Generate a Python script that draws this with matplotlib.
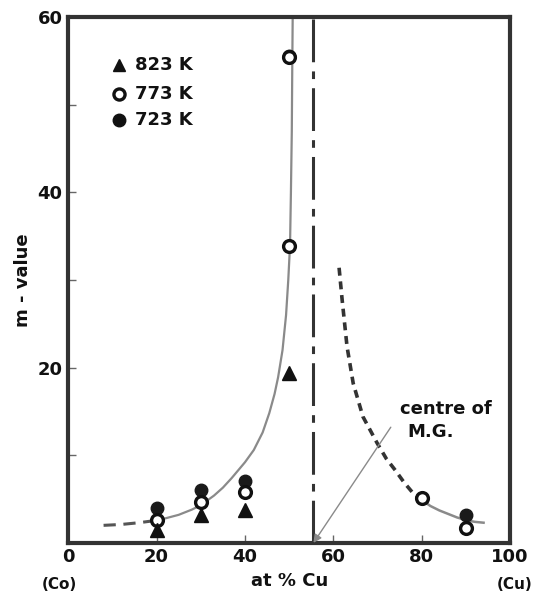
import matplotlib
matplotlib.use("Agg")
import matplotlib.pyplot as plt
import matplotlib.ticker as mtick

# measured points, at % Cu vs m-value
x_823 = [20, 30, 40, 50]
m_823 = [1.5, 3.2, 3.8, 19.4]
x_773 = [20, 30, 40, 50, 50, 80, 90]
m_773 = [2.6, 4.7, 5.8, 33.9, 55.4, 5.1, 1.7]
x_723 = [20, 30, 40, 50, 90]
m_723 = [4.0, 6.0, 7.1, 55.6, 3.2]

# hand-drawn guide curves
left_dash_x  = [8, 12, 16, 19]
left_dash_m  = [2.0, 2.1, 2.3, 2.5]
left_solid_x = [19, 22, 25, 28, 30, 33, 35, 37, 40, 42, 44, 45.5, 46.7, 47.5,
                48.5, 49.3, 49.8, 50.2, 50.4, 50.6, 50.7, 50.8]
left_solid_m = [2.5, 2.8, 3.2, 3.8, 4.3, 5.4, 6.3, 7.4, 9.2, 10.6, 12.6, 14.8, 17.0, 18.9,
                22.0, 26.0, 30.0, 34.0, 40.0, 47.0, 54.0, 60.0]
right_dash_x  = [61.3, 62.0, 63.1, 64.5, 66.7, 69.9, 72, 74, 76, 78, 80]
right_dash_m  = [31.4, 27.7, 22.4, 18.2, 14.4, 11.4, 9.6, 8.3, 6.9, 5.7, 4.9]
right_solid_x = [80, 82, 84, 86, 88, 90, 92, 94]
right_solid_m = [4.9, 4.2, 3.7, 3.3, 2.9, 2.6, 2.4, 2.3]
centre_x = 55.5

xticks = [0, 20, 40, 60, 80, 100]
yticks = [20, 40, 60]

ink  = "#111111"
grey = "#8a8a8a"
bold = dict(fontweight="bold", color=ink, family="DejaVu Sans")

fig = plt.figure(figsize=(5.33, 5.92), dpi=100)
ax = fig.add_axes([0.128, 0.083, 0.829, 0.888])

ax.plot(left_dash_x, left_dash_m, color="#555555", lw=2.2, ls=(0, (4, 2.5)))
ax.plot(left_solid_x, left_solid_m, color=grey, lw=1.6)
ax.plot(right_dash_x, right_dash_m, color="#333333", lw=2.6, ls=(0, (2.2, 1.6)))
ax.plot(right_solid_x, right_solid_m, color=grey, lw=1.8)
ax.plot([centre_x, centre_x], [0, 60], color="#333333", lw=2.2,
        ls=(0, (14, 3, 2.5, 3)))

ax.annotate("", xy=(centre_x, 0), xytext=(73, 13.2),
            arrowprops=dict(arrowstyle="-|>", color=grey, lw=1.0,
                            mutation_scale=12, shrinkA=0, shrinkB=0))
ax.text(85.5, 15.3, "centre of", ha="center", va="center", fontsize=13, **bold)
ax.text(82, 12.6, "M.G.", ha="center", va="center", fontsize=13, **bold)

ax.plot(x_723, m_723, "o", color="#1a1a1a", ms=9, mec="#1a1a1a", ls="none", zorder=4)
ax.plot(x_773, m_773, "o", mfc="white", mec=ink, mew=2.4, ms=8.5, ls="none", zorder=5)
ax.plot(x_823, m_823, "^", color=ink, ms=9.5, ls="none", zorder=6)

# legend drawn by hand as in the original
for yy, mk, lab in [(54.5, "^", "823 K"), (51.2, "o", "773 K"), (48.3, "o", "723 K")]:
    if lab == "773 K":
        ax.plot([11.5], [yy], mk, mfc="white", mec=ink, mew=2.4, ms=8)
    else:
        ax.plot([11.5], [yy], mk, color=ink, ms=9)
    ax.text(15.0, yy, lab, ha="left", va="center", fontsize=13, **bold)

ax.set_xlim(0, 100)
ax.set_ylim(0, 60)
ax.set_xticks(xticks)
ax.set_xticklabels([str(t) for t in xticks])
ax.set_yticks(yticks)
ax.yaxis.set_minor_locator(mtick.FixedLocator([10, 30, 50]))
ax.tick_params(direction="in", length=6, width=1.0, colors="#666666",
               labelcolor=ink, labelsize=13, pad=4)
ax.tick_params(which="minor", direction="in", length=6, width=1.0, colors="#666666")
for lab in ax.get_xticklabels() + ax.get_yticklabels():
    lab.set_fontweight("bold")
for sp in ax.spines.values():
    sp.set_linewidth(3.0)
    sp.set_color("#333333")

ax.set_xlabel("at % Cu", fontsize=13, labelpad=4, **bold)
ax.set_ylabel("m - value", fontsize=13, labelpad=4, **bold)
ax.text(-2, -4.8, "(Co)", ha="center", va="center", fontsize=11, **bold)
ax.text(101, -4.8, "(Cu)", ha="center", va="center", fontsize=11, **bold)

fig.savefig("out.png", dpi=100)
